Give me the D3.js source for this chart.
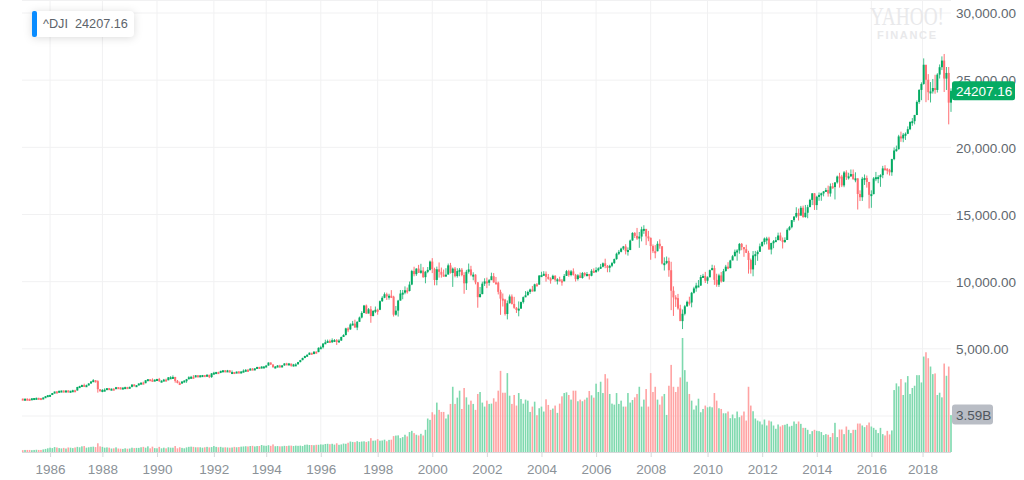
<!DOCTYPE html>
<html>
<head>
<meta charset="utf-8">
<title>^DJI</title>
<script src="https://cdn.jsdelivr.net/npm/d3@7"></script>
<style>
  html, body { margin: 0; padding: 0; background: #fff; }
  svg { display: block; font-family: "Liberation Sans", Arial, sans-serif; }
</style>
</head>
<body>
<div id="chart"></div>
<script>
// monthly bars, Jan 1985 .. Jan 2019, one row per year
const firstOpen = 1290;

const closes = [
  1277,1284,1267,1258,1315,1336,1348,1334,1329,1375,1472,1547,
  1571,1709,1819,1784,1877,1893,1775,1898,1768,1878,1914,1896,
  2158,2224,2305,2286,2292,2419,2572,2663,2596,1994,1834,1939,
  1958,2072,1988,2032,2031,2142,2129,2032,2113,2149,2114,2169,
  2342,2258,2294,2419,2480,2440,2661,2737,2693,2645,2706,2753,
  2591,2627,2707,2657,2877,2881,2905,2614,2453,2442,2560,2634,
  2736,2882,2914,2888,3028,2907,3025,3044,3017,3069,2895,3169,
  3223,3268,3236,3359,3397,3319,3394,3257,3272,3226,3305,3301,
  3310,3371,3435,3428,3527,3516,3539,3651,3555,3681,3684,3754,
  3978,3832,3636,3682,3758,3625,3765,3913,3843,3908,3739,3834,
  3844,4011,4158,4321,4465,4556,4709,4611,4789,4756,5075,5117,
  5395,5486,5587,5569,5643,5655,5529,5616,5882,6029,6522,6448,
  6813,6878,6584,7009,7331,7672,8223,7622,7945,7442,7823,7908,
  7907,8546,8800,9063,8900,8952,8883,7539,7843,8592,9117,9181,
  9359,9307,9786,10789,10560,10971,10655,10829,10337,10730,10878,11497,
  10941,10128,10922,10734,10522,10448,10522,11215,10651,10971,10415,10788,
  10887,10495,9879,10735,10912,10502,10523,9950,8848,9075,9852,10022,
  9920,10106,10404,9946,9925,9243,8737,8664,7592,8397,8896,8342,
  8054,7891,7992,8480,8850,8985,9234,9416,9275,9801,9782,10454,
  10488,10584,10358,10226,10188,10435,10140,10174,10080,10027,10428,10783,
  10490,10766,10504,10193,10467,10275,10641,10482,10569,10440,10806,10718,
  10865,10993,11109,11367,11168,11150,11186,11381,11679,12081,12222,12463,
  12622,12269,12354,13063,13628,13409,13212,13358,13896,13930,13372,13265,
  12650,12266,12263,12820,12638,11350,11378,11544,10851,9325,8829,8776,
  8001,7063,7609,8168,8500,8447,9172,9496,9712,9713,10345,10428,
  10067,10325,10857,11009,10137,9774,10466,10015,10788,11118,11006,11578,
  11892,12226,12320,12811,12570,12414,12143,11614,10913,11955,12046,12218,
  12633,12952,13212,13214,12393,12880,13009,13091,13437,13096,13026,13104,
  13861,14054,14579,14840,15116,14910,15500,14810,15130,15546,16086,16577,
  15699,16322,16458,16580,16717,16827,16563,17098,17043,17391,17828,17823,
  17165,18133,17776,17841,18011,17620,17690,16528,16285,17664,17720,17425,
  16466,16517,17685,17774,17787,17930,18432,18401,18308,18142,19124,19763,
  19864,20812,20663,20941,21009,21350,21891,21948,22405,23377,24272,24719,
  26149,25029,24103,24163,24416,24271,25415,25965,26458,25116,25538,23327,
  24207.16
];

const highs = [
  1293,1307,1310,1293,1320,1338,1372,1355,1340,1382,1476,1553,
  1571,1713,1822,1855,1882,1893,1909,1905,1920,1878,1956,1955,
  2176,2249,2335,2406,2338,2446,2572,2747,2662,2662,1984,2005,
  2059,2072,2088,2050,2060,2165,2158,2135,2132,2183,2169,2187,
  2350,2369,2305,2430,2500,2556,2661,2750,2705,2800,2722,2770,
  2835,2660,2760,2780,2900,2965,3024,2915,2680,2560,2610,2670,
  2760,2960,2985,3040,3050,3040,3045,3055,3055,3110,3065,3200,
  3290,3290,3300,3370,3420,3420,3430,3410,3390,3280,3310,3350,
  3340,3470,3490,3500,3560,3560,3570,3660,3660,3700,3710,3800,
  3990,3990,3840,3720,3790,3810,3790,3930,3960,3950,3880,3880,
  3930,4030,4180,4340,4490,4590,4730,4700,4820,4810,5110,5230,
  5410,5680,5690,5690,5780,5730,5730,5720,5910,6090,6570,6610,
  6900,7080,7170,7060,7400,7800,8270,8300,8040,8180,7880,8150,
  7990,8600,8920,9200,9180,9100,9370,8950,8190,8650,9380,9380,
  9650,9560,10010,10880,11110,11000,11250,11330,11080,10800,11090,11570,
  11750,11040,11120,11430,11050,10900,11000,11350,11400,11050,11090,11000,
  11020,11010,10700,10880,11350,11180,10700,10550,9970,9600,10000,10250,
  10300,10200,10670,10640,10350,10000,9400,9120,8720,8600,9040,9050,
  8870,8110,8530,8520,8900,9300,9330,9480,9680,9850,9900,10490,
  10740,10780,10760,10570,10320,10520,10480,10260,10370,10200,10570,10870,
  10880,10870,10990,10580,10560,10680,10720,10710,10720,10580,10930,10990,
  11070,11070,11320,11430,11710,11240,11260,11470,11720,12160,12360,12530,
  12660,12790,12550,13130,13680,13690,14000,13700,14090,14200,13660,13780,
  13280,12770,12720,13010,13150,12630,11810,11870,11790,11480,9650,8990,
  9090,8280,7930,8270,8590,8880,9240,9620,9920,10120,10500,10580,
  10730,10400,10900,11260,11210,10590,10590,10720,10950,11250,11450,11630,
  11990,12390,12420,12880,12880,12570,12750,12300,11720,12280,12290,12330,
  12840,13000,13290,13340,13340,12900,13100,13330,13650,13660,13290,13300,
  13970,14150,14590,14890,15540,15440,15640,15660,15710,15720,16170,16590,
  16590,16400,16640,16630,16740,16980,17150,17310,17350,17400,17900,18100,
  17950,18240,18290,18110,18350,18350,18140,17700,16800,17800,17980,17900,
  17400,16800,17790,18170,17920,18000,18620,18670,18450,18400,19150,19990,
  20130,20930,21170,21070,21110,21560,21930,22180,22420,23490,24330,24840,
  26620,25530,25450,24860,25090,25400,25520,26170,26770,26950,25980,25980,
  24390
];

const lows = [
  1255,1269,1247,1246,1242,1290,1318,1312,1297,1325,1374,1457,
  1502,1569,1686,1735,1746,1837,1763,1763,1755,1755,1845,1874,
  1896,2133,2216,2231,2212,2278,2409,2532,2493,1739,1834,1766,
  1880,1958,1970,1950,1942,2045,2090,1990,2027,2095,2040,2085,
  2127,2245,2225,2292,2395,2430,2440,2640,2635,2560,2600,2680,
  2540,2560,2630,2610,2665,2820,2830,2480,2430,2360,2440,2560,
  2470,2730,2840,2860,2875,2880,2890,2900,2990,2960,2820,2840,
  3130,3200,3210,3190,3330,3260,3280,3230,3240,3130,3210,3260,
  3240,3300,3350,3370,3420,3470,3450,3540,3540,3550,3640,3680,
  3750,3810,3590,3560,3630,3610,3620,3740,3820,3810,3670,3690,
  3820,3840,4000,4150,4300,4450,4550,4560,4600,4660,4750,5050,
  5020,5380,5450,5480,5430,5590,5290,5500,5590,5880,5990,6240,
  6410,6770,6580,6390,7010,7270,7650,7600,7650,6940,7420,7660,
  7540,7880,8500,8770,8640,8660,8780,7400,7470,7400,8590,8690,
  9060,9110,9270,9740,10400,10430,10650,10590,10280,9880,10630,10820,
  10640,9730,9730,10300,10300,10370,10400,10600,10600,9610,10320,10300,
  10400,10400,9100,9380,10600,10400,10100,9800,8060,8830,9060,9680,
  9520,9700,10300,9920,9810,9050,7530,8150,7480,7190,8360,8300,
  7980,7670,7420,7990,8370,8850,8980,9090,9270,9280,9650,9770,
  10410,10450,10000,10150,9850,10180,10000,9790,10010,9700,10030,10430,
  10370,10400,10450,10010,10080,10270,10220,10380,10380,10160,10400,10650,
  10650,10750,10950,11060,11000,10700,10700,11080,11320,11630,11980,12180,
  12350,12030,11940,12350,13050,13250,13110,12520,13000,13560,12720,13010,
  11630,12130,11740,12260,12450,11280,10830,11300,10365,7880,7450,8120,
  7910,7230,6470,7490,8120,8220,8090,9110,9250,9680,9680,10280,
  9900,9840,10330,10860,9760,9620,9610,9930,9980,10750,10930,11000,
  11600,11890,11560,12080,12340,11850,12130,10600,10600,10400,11230,11550,
  12300,12630,12760,12780,12390,12030,12490,12980,13090,13040,12470,12880,
  13100,13800,13970,14440,14740,14550,14970,14760,14760,14720,15640,15700,
  15340,15340,16020,16020,16350,16730,16330,16330,16920,16120,17300,17000,
  17040,17030,17570,17600,17790,17600,17400,15370,16000,16010,17200,17000,
  15450,15500,16500,17480,17330,17060,17700,18350,17990,17900,17880,19040,
  19680,19830,20410,20380,20550,20980,21280,21600,21710,22400,23240,23510,
  24660,23360,23510,23340,24000,23990,24080,25120,25750,24120,24270,21710,
  22640
];

// volume in billions
const volumes = [
  .18,.2,.2,.2,.18,.2,.22,.2,.2,.25,.3,.36,
  .42,.38,.48,.44,.38,.35,.4,.34,.44,.42,.38,.44,
  .5,.46,.55,.58,.42,.46,.5,.52,.48,.85,.55,.5,
  .42,.45,.42,.34,.36,.45,.34,.32,.3,.36,.32,.34,
  .42,.38,.4,.4,.46,.5,.42,.55,.36,.52,.38,.36,
  .5,.36,.42,.36,.46,.42,.42,.58,.36,.46,.4,.36,
  .45,.5,.52,.5,.46,.46,.46,.42,.46,.5,.45,.48,
  .58,.5,.46,.5,.44,.46,.44,.42,.44,.5,.46,.48,
  .52,.54,.56,.54,.58,.6,.54,.58,.58,.68,.62,.6,
  .66,.6,.74,.56,.58,.55,.56,.6,.58,.62,.62,.58,
  .62,.6,.62,.58,.7,.72,.68,.68,.66,.7,.7,.74,
  .72,.78,.8,.76,.8,.72,.85,.7,.74,.82,.8,.9,
  1.02,.98,.96,1.05,.98,1.02,1.04,.98,1.05,1.35,1.1,1.12,
  1.25,1.1,1.12,1.2,1.05,1.18,1.2,1.55,1.6,1.62,1.35,1.45,
  1.68,1.52,1.94,2.06,1.84,1.68,1.61,1.77,1.61,2.16,3.26,3.13,
  3.87,3.65,4.81,4.10,3.90,3.90,3.26,3.65,4.68,6.35,4.68,5.29,
  5.97,4.19,6.23,5.32,4.61,5.0,4.68,4.10,5.65,5.84,4.81,4.42,
  5.0,4.68,4.71,5.23,4.90,5.97,7.90,5.77,5.77,7.68,5.48,4.68,
  5.55,4.52,5.74,5.16,4.71,5.10,5.0,3.90,4.42,4.90,3.58,4.26,
  4.42,3.94,5.13,4.58,4.10,4.23,4.52,3.81,4.71,5.42,5.74,5.81,
  5.55,5.10,5.97,5.97,4.94,5.10,4.94,5.10,5.29,5.94,5.52,5.29,
  6.65,5.84,6.84,5.74,7.58,7.16,5.65,4.71,4.61,5.74,4.68,5.0,
  4.42,4.42,5.74,4.81,5.06,5.32,5.65,6.35,4.42,5.10,6.13,4.42,
  7.68,5.84,6.35,5.10,4.61,5.42,5.65,3.61,6.45,8.48,6.35,5.84,
  6.35,7.26,11.1,7.97,6.84,5.65,5.0,4.13,4.52,5.19,3.87,4.19,
  4.52,4.35,4.42,4.35,5.74,5.0,4.26,4.19,3.77,3.77,3.94,3.29,
  3.65,3.29,3.94,3.39,3.55,3.94,3.06,6.35,4.52,3.97,3.26,3.06,
  2.97,2.68,3.16,2.58,3.06,2.97,2.58,2.26,2.68,2.48,2.61,2.65,
  2.74,2.48,2.55,2.97,2.74,2.97,2.74,2.35,2.35,2.16,1.74,2.03,
  2.16,2.06,2.03,1.94,1.65,1.74,1.68,1.45,1.84,2.84,1.45,2.19,
  2.19,1.74,2.48,2.16,1.84,2.16,2.16,2.77,2.77,2.58,2.42,2.61,
  2.87,2.48,2.35,2.16,1.84,2.35,1.74,1.61,2.06,1.71,2.10,6.03,
  6.68,6.39,7.10,5.55,6.77,7.39,5.65,6.23,6.45,7.48,7.48,6.77,
  9.29,9.71,9.13,8.32,7.58,7.65,5.55,5.77,5.32,8.61,7.42,8.32,
  3.59
];

// year labels and the bar each one sits under, they are not quite evenly spaced
const tickYears = [1986,1988,1990,1992,1994,1996,1998,2000,2002,2004,2006,2008,2010,2012,2014,2016,2018];
const tickBars = [12,35,59,84,107,131,156,180,204,228,252,276,301,325,349,373,395.5];
const priceTicks = [5000,10000,15000,20000,25000,30000];
const gridPrices = [0,5000,10000,15000,20000,25000,30000];

const width = 1024, height = 480;
const upColor = '#05ab63', downColor = '#ff6f73';
const upVol = '#7ed9ae', downVol = '#ffa3a3';

const svg = d3.select('#chart').append('svg')
    .attr('width', width)
    .attr('height', height);

const x = d3.scaleLinear().domain([0, 408]).range([22.75, 951]);
const y = d3.scaleLinear().domain([0, 30000]).range([416, 13]);
const yVol = d3.scaleLinear().domain([0, 11]).range([452, 339]);

const bars = closes.map((close, i) => {
    const open = i === 0 ? firstOpen : closes[i - 1];
    return { i, open, close, high: highs[i], low: lows[i], volume: volumes[i], up: close >= open };
});

// grid
const grid = svg.append('g')
    .attr('stroke', '#f1f1f2')
    .attr('stroke-width', 1);

grid.selectAll('line.h')
    .data(gridPrices)
    .join('line')
    .attr('class', 'h')
    .attr('x1', 22).attr('x2', 951)
    .attr('y1', d => y(d)).attr('y2', d => y(d));

grid.append('line')
    .attr('x1', 22).attr('x2', 951)
    .attr('y1', 0.5).attr('y2', 0.5);

grid.selectAll('line.v')
    .data(tickBars)
    .join('line')
    .attr('class', 'v')
    .attr('x1', d => x(d)).attr('x2', d => x(d))
    .attr('y1', 0).attr('y2', 452);

// watermark
const mark = svg.append('g')
    .attr('fill', '#e9e9eb')
    .attr('text-anchor', 'start');

mark.append('text')
    .attr('transform', 'translate(870,25) scale(1,1.1)')
    .attr('font-family', '"Liberation Serif", serif')
    .attr('font-size', 22)
    .attr('textLength', 74)
    .attr('lengthAdjust', 'spacingAndGlyphs')
    .text('YAHOO!');

mark.append('text')
    .attr('x', 877).attr('y', 39)
    .attr('font-size', 11)
    .attr('font-weight', 'bold')
    .attr('textLength', 59)
    .text('FINANCE');

// volume
svg.append('g')
    .selectAll('rect')
    .data(bars)
    .join('rect')
    .attr('x', d => x(d.i) - 0.8)
    .attr('width', 1.6)
    .attr('y', d => yVol(d.volume))
    .attr('height', d => yVol(0) - yVol(d.volume))
    .attr('fill', d => d.up ? upVol : downVol);

// candles
const candles = svg.append('g');

candles.selectAll('line')
    .data(bars)
    .join('line')
    .attr('x1', d => x(d.i)).attr('x2', d => x(d.i))
    .attr('y1', d => y(d.high)).attr('y2', d => y(d.low))
    .attr('stroke', d => d.up ? '#3fbf8a' : downColor)
    .attr('stroke-width', 1);

candles.selectAll('rect')
    .data(bars)
    .join('rect')
    .attr('x', d => x(d.i) - 1)
    .attr('width', 2)
    .attr('y', d => y(Math.max(d.open, d.close)))
    .attr('height', d => Math.max(2, Math.abs(y(d.open) - y(d.close))))
    .attr('fill', d => d.up ? upColor : downColor);

// axes
const yAxis = d3.axisRight(y)
    .tickValues(priceTicks)
    .tickSize(0)
    .tickPadding(0)
    .tickFormat(d3.format(',.2f'));

const yAxisG = svg.append('g')
    .attr('transform', 'translate(956,0.5)')
    .call(yAxis);

yAxisG.select('.domain').remove();
yAxisG.selectAll('text')
    .attr('fill', '#5f676e')
    .attr('font-size', 13.5)
    .attr('font-family', '"Liberation Sans", Arial, sans-serif');

const xAxis = d3.axisBottom(x)
    .tickValues(tickBars)
    .tickSize(5)
    .tickPadding(7)
    .tickFormat((d, i) => tickYears[i]);

const xAxisG = svg.append('g')
    .attr('transform', 'translate(0,452)')
    .call(xAxis);

xAxisG.select('.domain').attr('stroke', '#d6d8da').attr('d', 'M22,0.5H951');
xAxisG.selectAll('line').attr('stroke', '#d6d8da');
xAxisG.selectAll('text')
    .attr('fill', '#8b9298')
    .attr('font-size', 13.5)
    .attr('font-family', '"Liberation Sans", Arial, sans-serif');

// last price and volume tags
const lastBar = bars[bars.length - 1];

const tags = svg.append('g');

tags.append('rect')
    .attr('x', 952).attr('y', y(lastBar.close) - 9.5)
    .attr('width', 63).attr('height', 19).attr('rx', 2.5)
    .attr('fill', upColor);

tags.append('text')
    .attr('x', 956).attr('y', y(lastBar.close))
    .attr('dy', '0.35em')
    .attr('fill', '#fff')
    .attr('font-size', 13.5)
    .text(d3.format('.2f')(lastBar.close));

tags.append('rect')
    .attr('x', 952).attr('y', yVol(lastBar.volume) - 10.5)
    .attr('width', 41).attr('height', 20).attr('rx', 3)
    .attr('fill', '#b9bdc5');

tags.append('text')
    .attr('x', 956).attr('y', yVol(lastBar.volume))
    .attr('dy', '0.35em')
    .attr('fill', '#4f565d')
    .attr('font-size', 13.5)
    .text(lastBar.volume + 'B');

// legend
const legend = svg.append('g');

legend.append('rect')
    .attr('x', 32).attr('y', 11)
    .attr('width', 102).attr('height', 26).attr('rx', 4)
    .attr('fill', '#fff')
    .style('filter', 'drop-shadow(0 1px 4px rgba(0,0,0,0.14))');

legend.append('rect')
    .attr('x', 32).attr('y', 11)
    .attr('width', 5).attr('height', 26).attr('rx', 2)
    .attr('fill', '#0a8cff');

legend.append('text')
    .attr('x', 43).attr('y', 24)
    .attr('dy', '0.35em')
    .attr('fill', '#5d646b')
    .attr('font-size', 12.7)
    .text('^DJI');

legend.append('text')
    .attr('x', 75).attr('y', 24)
    .attr('dy', '0.35em')
    .attr('fill', '#5d646b')
    .attr('font-size', 12.7)
    .text(d3.format('.2f')(lastBar.close));
</script>
</body>
</html>
